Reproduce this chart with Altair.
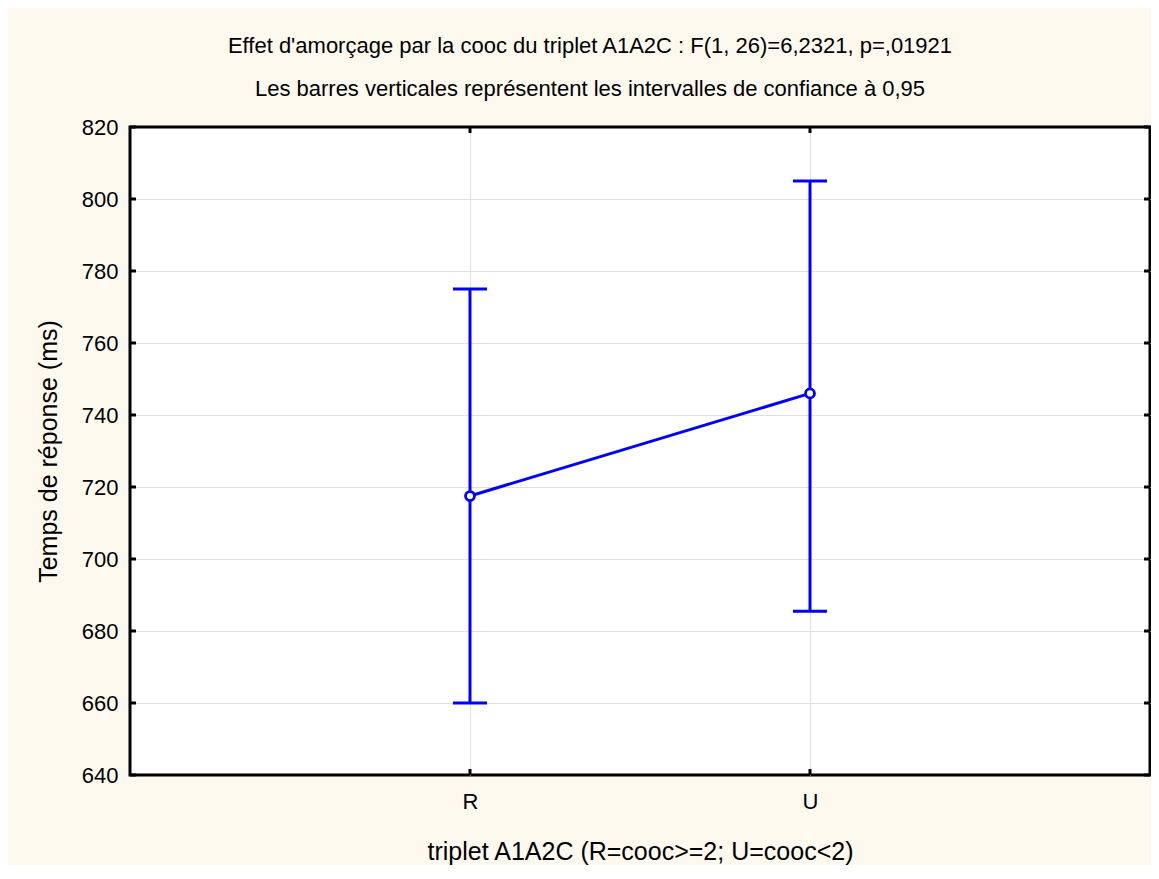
import altair as alt
import pandas as pd

categories = ["R", "U"]
means = [717.5, 746.0]
ci_low = [660.0, 685.5]
ci_high = [775.0, 805.0]
y_ticks = [640, 660, 680, 700, 720, 740, 760, 780, 800, 820]

title_lines = [
    "Effet d'amorçage par la cooc du triplet A1A2C : F(1, 26)=6,2321, p=,01921",
    "Les barres verticales représentent les intervalles de confiance à 0,95",
]
x_title = "triplet A1A2C (R=cooc>=2; U=cooc<2)"
y_title = "Temps de réponse (ms)"

W, H = 1020, 648
FONT = "Liberation Sans"
BLUE = "#0000FF"

df = pd.DataFrame({"cat": categories, "mean": means, "lo": ci_low, "hi": ci_high})
ticks_df = pd.DataFrame({"t": y_ticks})

xs = alt.Scale(type="point", domain=categories, padding=1)
ys = alt.Scale(domain=[640, 820], nice=False, zero=False)

grid_op = alt.condition("datum.value <= 640 || datum.value >= 820", alt.value(0), alt.value(1))

x_axis = alt.Axis(title=x_title, labelAngle=0, labelPadding=16, titlePadding=27,
                  labelFontSize=22, titleFontSize=25,
                  grid=True, gridColor="#E0E0E0", ticks=False, domain=False)
y_axis = alt.Axis(title=y_title, values=y_ticks, labelPadding=12, titlePadding=20,
                  labelFontSize=22, titleFontSize=25,
                  grid=True, gridColor="#E0E0E0", gridOpacity=grid_op,
                  ticks=False, domain=False)

base = alt.Chart(df)

bars = base.mark_rule(color=BLUE, strokeWidth=3).encode(
    x=alt.X("cat:N", scale=xs, sort=categories, axis=x_axis),
    y=alt.Y("lo:Q", scale=ys, axis=y_axis),
    y2="hi:Q",
)
cap_lo = base.mark_tick(color=BLUE, orient="horizontal", size=34, thickness=3, opacity=1).encode(
    x=alt.X("cat:N", scale=xs), y=alt.Y("lo:Q", scale=ys)
)
cap_hi = base.mark_tick(color=BLUE, orient="horizontal", size=34, thickness=3, opacity=1).encode(
    x=alt.X("cat:N", scale=xs), y=alt.Y("hi:Q", scale=ys)
)
line = base.mark_line(color=BLUE, strokeWidth=3).encode(
    x=alt.X("cat:N", scale=xs), y=alt.Y("mean:Q", scale=ys)
)
pts = base.mark_point(shape="circle", filled=True, fill="white", stroke=BLUE,
                      strokeWidth=2.8, size=80, opacity=1).encode(
    x=alt.X("cat:N", scale=xs), y=alt.Y("mean:Q", scale=ys)
)

tk = alt.Chart(ticks_df)
left_ticks = tk.mark_rule(color="black", strokeWidth=3).encode(
    y=alt.Y("t:Q", scale=ys), x=alt.value(0), x2=alt.value(6)
)
right_ticks = tk.mark_rule(color="black", strokeWidth=3).encode(
    y=alt.Y("t:Q", scale=ys), x=alt.value(W - 6), x2=alt.value(W)
)
bottom_ticks = base.mark_rule(color="black", strokeWidth=3).encode(
    x=alt.X("cat:N", scale=xs), y=alt.value(H), y2=alt.value(H - 6)
)
top_ticks = base.mark_rule(color="black", strokeWidth=3).encode(
    x=alt.X("cat:N", scale=xs), y=alt.value(0), y2=alt.value(6)
)

chart = alt.layer(
    bars, cap_lo, cap_hi, line, pts, left_ticks, right_ticks, bottom_ticks, top_ticks
).properties(
    width=W, height=H,
    autosize=alt.AutoSizeParams(type="none"),
    padding={"left": 122, "top": 119, "right": 1, "bottom": 90},
    background="#FDF9EE",
    title=alt.TitleParams(text=title_lines, anchor="middle", dx=-50, offset=15,
                          lineHeight=43, fontSize=22, font=FONT, fontWeight="normal",
                          color="black"),
).configure_view(
    fill="white", stroke="black", strokeWidth=3
).configure_axis(
    labelFont=FONT, titleFont=FONT,
    labelColor="black", titleColor="black", titleFontWeight="normal"
)

chart.save("out.html", embed_options={"renderer": "svg", "actions": False})
